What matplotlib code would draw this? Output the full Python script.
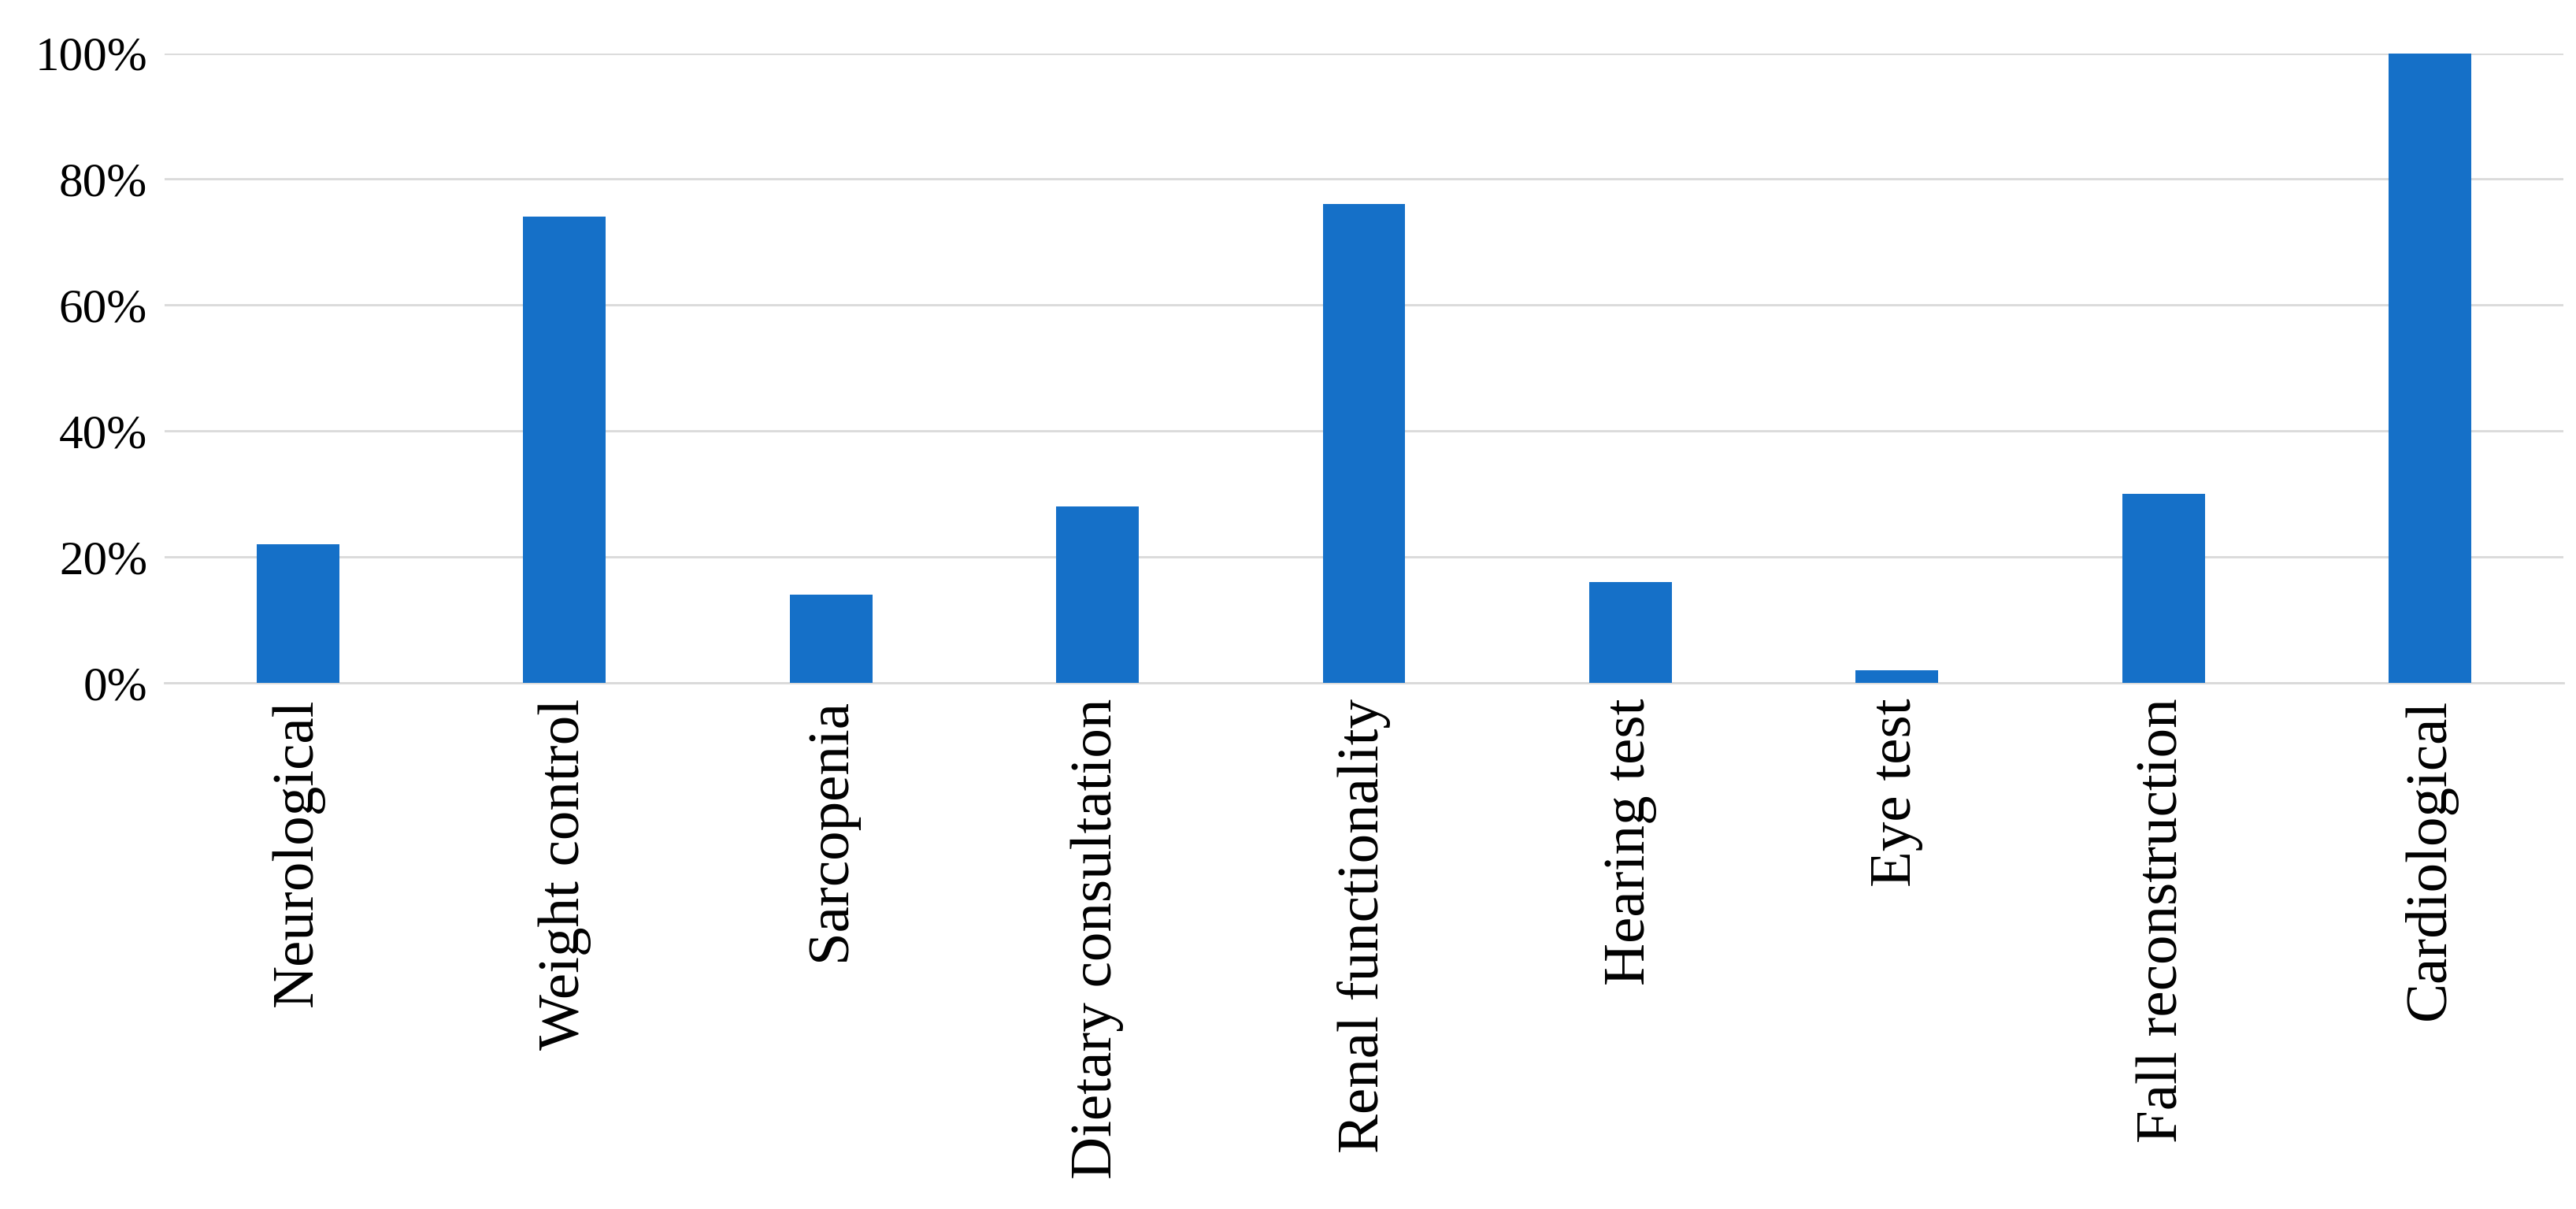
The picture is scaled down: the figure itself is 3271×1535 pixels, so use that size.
import matplotlib
matplotlib.use("Agg")
import matplotlib.pyplot as plt

categories = ["Neurological", "Weight control", "Sarcopenia", "Dietary consultation",
              "Renal functionality", "Hearing test", "Eye test", "Fall reconstruction", "Cardiological"]
values = [22, 74, 14, 28, 76, 16, 2, 30, 100]

plt.rcParams['font.family'] = ['Liberation Serif', 'DejaVu Serif']
fig = plt.figure(figsize=(32.71, 15.35), dpi=100)
ax = fig.add_axes([0.064, 0.435, 0.931, 0.521])
x = range(len(categories))
ax.bar(x, values, width=0.31, color="#1570C8", zorder=3)
ax.set_ylim(0, 100)
ax.set_xlim(-0.5, len(categories) - 0.5)
ax.set_yticks(range(0, 101, 20))
ax.set_yticklabels([f"{v}%" for v in range(0, 101, 20)])
ax.set_xticks(list(x))
ax.set_xticklabels(categories, rotation=90)
ax.grid(axis="y", color="#d9d9d9", linewidth=2, zorder=0)
for s in ["top", "right", "left"]:
    ax.spines[s].set_visible(False)
ax.spines["bottom"].set_color("#d9d9d9")
ax.spines["bottom"].set_linewidth(2)
ax.tick_params(axis="both", length=0, pad=14)
ax.tick_params(axis="x", labelsize=54)
ax.tick_params(axis="y", labelsize=44, pad=16)
fig.savefig("out.png", dpi=100)
